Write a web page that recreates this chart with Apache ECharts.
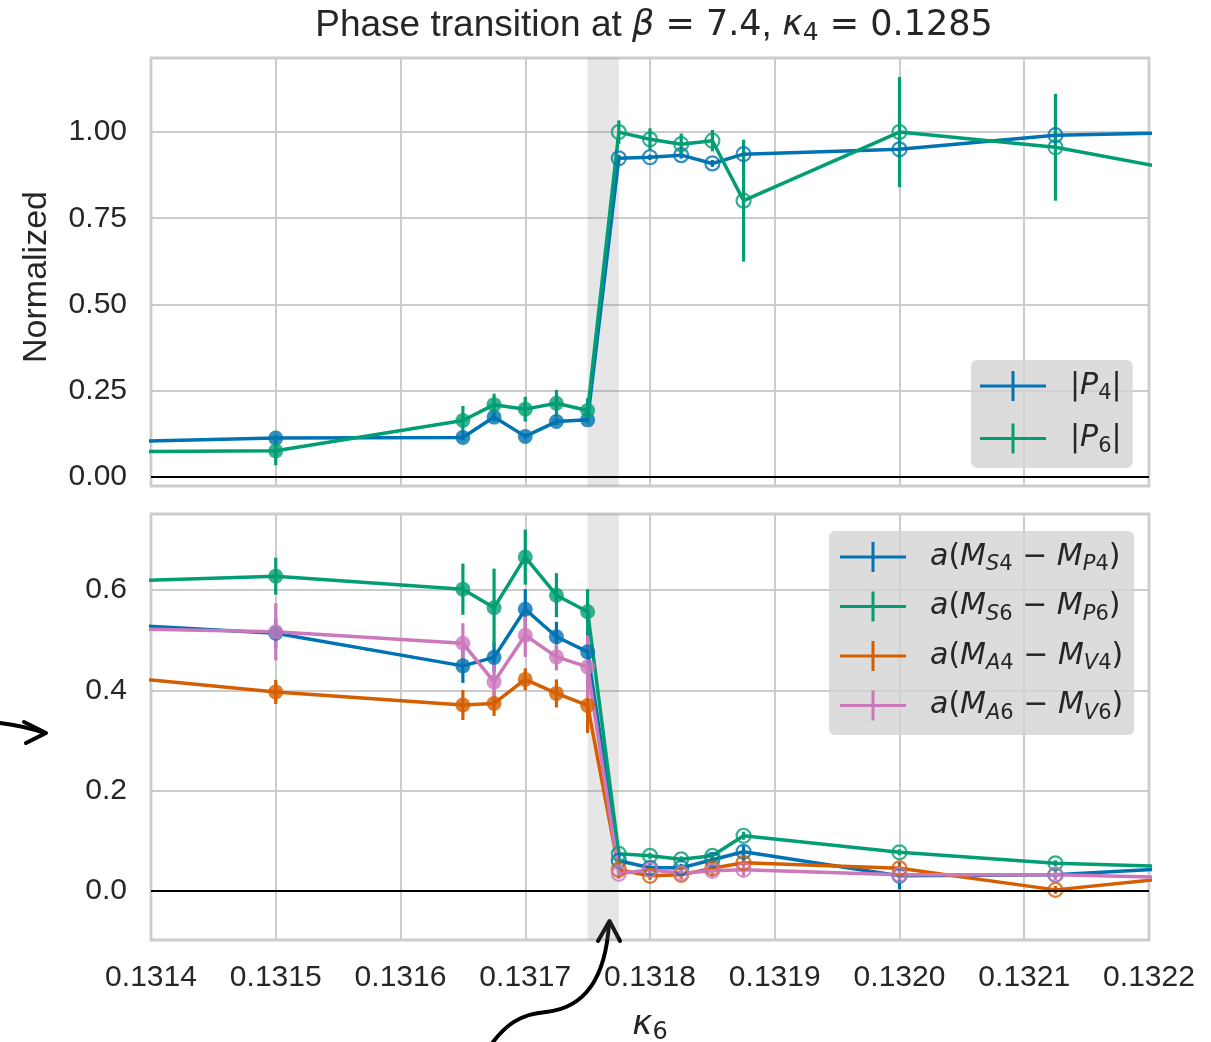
<!DOCTYPE html>
<html>
<head>
<meta charset="utf-8">
<script src="https://cdn.jsdelivr.net/npm/echarts@6/dist/echarts.min.js"></script>
<style>
  html, body { margin: 0; padding: 0; background: #ffffff; }
  #chart { width: 1211px; height: 1042px; }
</style>
</head>
<body>
<div id="chart"></div>
<script>
// Hopping parameter kappa_6 of the scan (first and last points lie just outside the shown window)
const kappa6 = [0.1313, 0.1315, 0.13165, 0.131675, 0.1317, 0.131725, 0.13175,
                0.131775, 0.1318, 0.131825, 0.13185, 0.131875, 0.1320, 0.132125, 0.13225];
// points up to and including kappa6 = 0.13175 belong to the confined side (filled markers)
const confinedCount = 7;
const transitionBand = [0.13175, 0.131775];

// Normalized Polyakov loops
const polyakov4 = [0.096, 0.112, 0.114, 0.173, 0.117, 0.160, 0.165,
                   0.924, 0.927, 0.933, 0.909, 0.936, 0.950, 0.991, 1.000];
const polyakov4Err = [0.010, 0.008, 0.008, 0.012, 0.008, 0.010, 0.010,
                      0.010, 0.008, 0.010, 0.010, 0.010, 0.010, 0.012, 0.010];
const polyakov6 = [0.071, 0.075, 0.163, 0.209, 0.196, 0.213, 0.192,
                   1.000, 0.979, 0.965, 0.975, 0.801, 1.000, 0.956, 0.872];
const polyakov6Err = [0.040, 0.042, 0.042, 0.032, 0.036, 0.039, 0.036,
                      0.034, 0.032, 0.031, 0.031, 0.177, 0.160, 0.155, 0.150];

// Mass splittings in lattice units
const splitS4P4 = [0.542, 0.514, 0.449, 0.466, 0.562, 0.507, 0.477,
                   0.060, 0.046, 0.046, 0.062, 0.078, 0.030, 0.032, 0.049];
const splitS4P4Err = [0.030, 0.030, 0.034, 0.030, 0.040, 0.030, 0.037,
                      0.010, 0.008, 0.008, 0.010, 0.012, 0.027, 0.010, 0.010];
const splitS6P6 = [0.612, 0.628, 0.602, 0.565, 0.666, 0.590, 0.557,
                   0.074, 0.070, 0.063, 0.070, 0.110, 0.077, 0.055, 0.046];
const splitS6P6Err = [0.040, 0.037, 0.051, 0.078, 0.055, 0.044, 0.045,
                      0.008, 0.006, 0.006, 0.006, 0.008, 0.006, 0.006, 0.006];
const splitA4V4 = [0.445, 0.397, 0.371, 0.374, 0.422, 0.394, 0.370,
                   0.042, 0.030, 0.032, 0.045, 0.056, 0.045, 0.002, 0.034];
const splitA4V4Err = [0.025, 0.024, 0.030, 0.025, 0.022, 0.028, 0.055,
                      0.010, 0.008, 0.008, 0.008, 0.010, 0.008, 0.008, 0.008];
const splitA6V6 = [0.527, 0.517, 0.494, 0.417, 0.510, 0.467, 0.447,
                   0.034, 0.042, 0.035, 0.040, 0.042, 0.032, 0.032, 0.025];
const splitA6V6Err = [0.050, 0.057, 0.040, 0.040, 0.043, 0.027, 0.063,
                      0.010, 0.010, 0.010, 0.012, 0.012, 0.010, 0.010, 0.010];

// Axis ticks
const xTicks = [0.1314, 0.1315, 0.1316, 0.1317, 0.1318, 0.1319, 0.1320, 0.1321, 0.1322];
const yTicksTop = [0, 0.25, 0.5, 0.75, 1.0];
const yTicksBottom = [0, 0.2, 0.4, 0.6];

const COLORS = { blue: '#0173b2', green: '#029e73', orange: '#d55e00', pink: '#cc78bc' };
const TEXT = '#262626';
const GRIDLINE = '#cccccc';
const TICK_FONT = 30;

const chart = echarts.init(document.getElementById('chart'), null, { renderer: 'canvas' });

const series = [];

// band marking the transition and the zero line, one per panel
function addPanelDecor(idx) {
  series.push({
    type: 'line', name: 'decor' + idx, xAxisIndex: idx, yAxisIndex: idx,
    data: [], silent: true, z: 1,
    markArea: {
      silent: true,
      itemStyle: { color: 'rgba(128,128,128,0.2)', borderWidth: 0 },
      label: { show: false },
      data: [[{ xAxis: transitionBand[0] }, { xAxis: transitionBand[1] }]]
    },
    markLine: {
      silent: true, symbol: 'none', animation: false,
      label: { show: false },
      lineStyle: { color: '#000000', width: 2, type: 'solid' },
      data: [{ yAxis: 0 }]
    }
  });
}

// one measured quantity: connecting line, error bars, filled / open markers
function addSweep(name, color, values, errors, idx) {
  const pts = kappa6.map((k, i) => [k, values[i], errors[i]]);
  series.push({
    type: 'line', name: name, xAxisIndex: idx, yAxisIndex: idx,
    data: pts.map(p => [p[0], p[1]]),
    symbol: 'none', showSymbol: false, clip: true,
    lineStyle: { color: color, width: 3.5 },
    itemStyle: { color: color },
    z: 2
  });
  series.push({
    type: 'custom', name: name + ' error', xAxisIndex: idx, yAxisIndex: idx,
    data: pts, clip: true, z: 2,
    encode: { x: 0, y: 1 },
    renderItem: function (params, api) {
      const x = api.value(0), y = api.value(1), e = api.value(2);
      const lo = api.coord([x, y - e]);
      const hi = api.coord([x, y + e]);
      return {
        type: 'line',
        shape: { x1: lo[0], y1: lo[1], x2: hi[0], y2: hi[1] },
        style: { stroke: color, lineWidth: 3.2 }
      };
    }
  });
  series.push({
    type: 'scatter', name: name + ' confined', xAxisIndex: idx, yAxisIndex: idx,
    data: pts.slice(0, confinedCount).map(p => [p[0], p[1]]),
    symbol: 'circle', symbolSize: 15, clip: true, z: 2,
    itemStyle: { color: color }
  });
  series.push({
    type: 'scatter', name: name + ' deconfined', xAxisIndex: idx, yAxisIndex: idx,
    data: pts.slice(confinedCount).map(p => [p[0], p[1]]),
    symbol: 'circle', symbolSize: 14, clip: true, z: 2,
    itemStyle: { color: 'rgba(0,0,0,0)', borderColor: color, borderWidth: 2.2 }
  });
}

addPanelDecor(0);
addPanelDecor(1);
addSweep('P4', COLORS.blue, polyakov4, polyakov4Err, 0);
addSweep('P6', COLORS.green, polyakov6, polyakov6Err, 0);
addSweep('S4P4', COLORS.blue, splitS4P4, splitS4P4Err, 1);
addSweep('S6P6', COLORS.green, splitS6P6, splitS6P6Err, 1);
addSweep('A4V4', COLORS.orange, splitA4V4, splitA4V4Err, 1);
addSweep('A6V6', COLORS.pink, splitA6V6, splitA6V6Err, 1);

// legend labels in math style
const legendLabels = {
  'P4': '{t||}{i|P}{sn|4}{t||}',
  'P6': '{t||}{i|P}{sn|6}{t||}',
  'S4P4': '{i|a}{t|(}{i|M}{si|S}{sn|4}{t| − }{i|M}{si|P}{sn|4}{t|)}',
  'S6P6': '{i|a}{t|(}{i|M}{si|S}{sn|6}{t| − }{i|M}{si|P}{sn|6}{t|)}',
  'A4V4': '{i|a}{t|(}{i|M}{si|A}{sn|4}{t| − }{i|M}{si|V}{sn|4}{t|)}',
  'A6V6': '{i|a}{t|(}{i|M}{si|A}{sn|6}{t| − }{i|M}{si|V}{sn|6}{t|)}'
};
const mathRich = {
  t: { fontFamily: 'DejaVu Sans', fontSize: 30, color: TEXT },
  i: { fontFamily: 'DejaVu Sans', fontStyle: 'italic', fontSize: 30, color: TEXT },
  si: { fontFamily: 'DejaVu Sans', fontStyle: 'italic', fontSize: 21, color: TEXT, padding: [16, 0, 0, 0] },
  sn: { fontFamily: 'DejaVu Sans', fontSize: 21, color: TEXT, padding: [16, 0, 0, 0] }
};
// errorbar handle: horizontal line crossed by a vertical bar
const PLUS_ICON = 'path://M0,13.5H66V16.5H0Z M31.5,0H34.5V30H31.5Z';

function makeLegend(names, left, top, gap, padding) {
  return {
    orient: 'vertical', left: left, top: top,
    data: names.map(n => ({ name: n, icon: PLUS_ICON })),
    itemWidth: 66, itemHeight: 30, itemGap: gap,
    padding: padding,
    backgroundColor: 'rgba(211,211,211,0.8)',
    borderRadius: 6,
    selectedMode: false,
    itemStyle: { borderWidth: 0 },
    formatter: n => legendLabels[n],
    textStyle: { color: TEXT, padding: [0, 0, 0, 19], rich: mathRich }
  };
}

const xAxisBase = {
  type: 'value', min: xTicks[0], max: xTicks[xTicks.length - 1],
  axisLine: { show: false },
  axisTick: { show: false, customValues: xTicks },
  splitLine: { show: true, lineStyle: { color: GRIDLINE, width: 2 } }
};

const arrowStyle = { stroke: '#000', fill: null, lineWidth: 4, lineCap: 'round', lineJoin: 'round' };

const option = {
  backgroundColor: '#ffffff',
  animation: false,
  textStyle: { fontFamily: 'Liberation Sans' },
  title: {
    text: '{r|Phase transition at }{mi|β}{mr| = 7.4}{r|, }{mi|κ}{ms|4}{mr| = 0.1285}',
    left: 650, top: 1, textAlign: 'center', padding: 4,
    textStyle: {
      fontWeight: 'normal',
      rich: {
        r: { fontFamily: 'Liberation Sans', fontWeight: 'normal', fontSize: 37, color: TEXT },
        mi: { fontFamily: 'DejaVu Sans', fontWeight: 'normal', fontStyle: 'italic', fontSize: 35, color: TEXT },
        mr: { fontFamily: 'DejaVu Sans', fontWeight: 'normal', fontSize: 35, color: TEXT },
        ms: { fontFamily: 'DejaVu Sans', fontWeight: 'normal', fontSize: 25, color: TEXT, padding: [16, 0, 0, 0] }
      }
    }
  },
  legend: [
    makeLegend(['P4', 'P6'], 971, 360, 19, [11, 11, 11, 9]),
    makeLegend(['S4P4', 'S6P6', 'A4V4', 'A6V6'], 829, 531, 16, [11, 11, 11, 11])
  ],
  grid: [
    { left: 151, top: 58, width: 998, height: 428, show: true, borderColor: GRIDLINE, borderWidth: 2.8,
      backgroundColor: 'rgba(0,0,0,0)', containLabel: false, outerBoundsMode: 'none' },
    { left: 151, top: 514, width: 998, height: 426, show: true, borderColor: GRIDLINE, borderWidth: 2.8,
      backgroundColor: 'rgba(0,0,0,0)', containLabel: false, outerBoundsMode: 'none' }
  ],
  xAxis: [
    Object.assign({}, xAxisBase, { gridIndex: 0, axisLabel: { show: false, customValues: xTicks } }),
    Object.assign({}, xAxisBase, {
      gridIndex: 1,
      axisLabel: {
        show: true, customValues: xTicks, margin: 23,
        fontFamily: 'Liberation Sans', fontSize: TICK_FONT, color: TEXT,
        formatter: v => v.toFixed(4)
      },
      name: '{i|κ}{s|6}', nameLocation: 'middle', nameGap: 65,
      nameTextStyle: {
        rich: {
          i: { fontFamily: 'DejaVu Sans', fontStyle: 'italic', fontSize: 34, color: TEXT },
          s: { fontFamily: 'DejaVu Sans', fontSize: 24, color: TEXT, padding: [16, 0, 0, 0] }
        }
      }
    })
  ],
  yAxis: [
    {
      type: 'value', gridIndex: 0, min: -0.027, max: 1.215,
      axisLine: { show: false },
      axisTick: { show: false, customValues: yTicksTop },
      axisLabel: { customValues: yTicksTop, margin: 24, fontFamily: 'Liberation Sans', fontSize: TICK_FONT, color: TEXT,
                   formatter: v => v.toFixed(2) },
      splitLine: { show: true, lineStyle: { color: GRIDLINE, width: 2 } },
      name: 'Normalized', nameLocation: 'middle', nameRotate: 90, nameGap: 97,
      nameTextStyle: { fontFamily: 'Liberation Sans', fontSize: 34, color: TEXT, padding: [0, 10, 0, 0] }
    },
    {
      type: 'value', gridIndex: 1, min: -0.098, max: 0.752,
      axisLine: { show: false },
      axisTick: { show: false, customValues: yTicksBottom },
      axisLabel: { customValues: yTicksBottom, margin: 24, fontFamily: 'Liberation Sans', fontSize: TICK_FONT, color: TEXT,
                   formatter: v => v.toFixed(1) },
      splitLine: { show: true, lineStyle: { color: GRIDLINE, width: 2 } }
    }
  ],
  graphic: [
    // hand-drawn pointer towards the 0.4 level
    {
      type: 'group', silent: true, z: 100,
      children: [
        { type: 'bezierCurve', shape: { x1: 0, y1: 723, cpx1: 24, cpy1: 726, x2: 45, y2: 733 }, style: arrowStyle },
        { type: 'polyline', shape: { points: [[24, 722], [46, 733], [26, 743]] }, style: arrowStyle }
      ]
    },
    // hand-drawn pointer up to the transition band
    {
      type: 'group', silent: true, z: 100,
      children: [
        { type: 'bezierCurve', shape: { x1: 490, y1: 1046, cpx1: 505, cpy1: 1025, cpx2: 520, cpy2: 1014, x2: 546, y2: 1012 }, style: arrowStyle },
        { type: 'bezierCurve', shape: { x1: 546, y1: 1012, cpx1: 575, cpy1: 1009, cpx2: 605, cpy2: 990, x2: 609, y2: 923 }, style: arrowStyle },
        { type: 'polyline', shape: { points: [[598, 941], [609.5, 921], [620, 941]] }, style: arrowStyle }
      ]
    }
  ],
  series: series
};

chart.setOption(option);
</script>
</body>
</html>
